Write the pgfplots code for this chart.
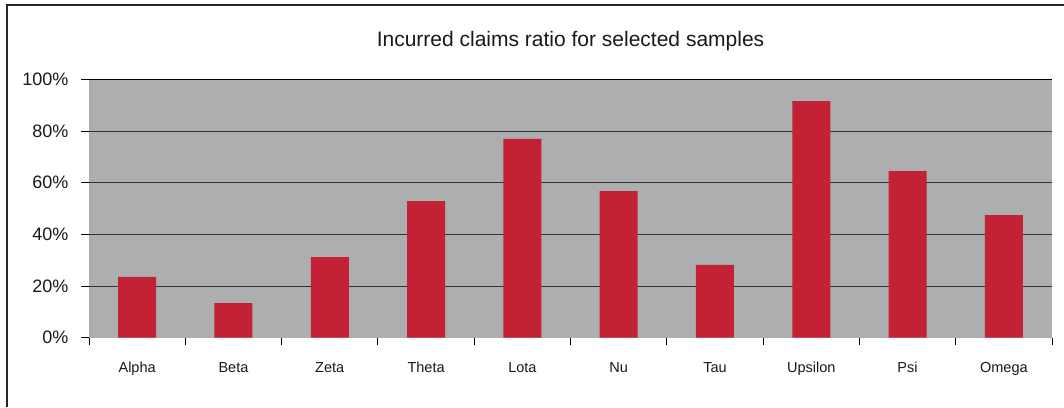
\documentclass[border=0pt]{standalone}
\usepackage{pgfplots}
\pgfplotsset{compat=1.18}
\usepackage{fontspec}
\setmainfont{Liberation Sans}
\definecolor{barred}{HTML}{C32234}
\definecolor{plotgray}{HTML}{ADAEB0}
\begin{document}
\begin{tikzpicture}[x=1bp,y=1bp]
\useasboundingbox (0,0) rectangle (1064,407);
\draw[line width=1.5bp,black!85] (7,0) -- (7,402) -- (1064,402);
\node[font=\fontsize{21bp}{23bp}\selectfont,text=black!90] at (570.5,366) {Incurred claims ratio for selected samples};
\begin{axis}[
  at={(89bp,69.3bp)}, anchor=south west,
  scale only axis, width=963bp, height=258.2bp,
  xmin=-0.5, xmax=9.5, ymin=0, ymax=100,
  axis background/.style={fill=plotgray},
  axis line style={draw=none},
  xtick pos=bottom, ytick pos=left,
  ybar, bar width=38bp,
  xtick={0,...,9},
  xticklabels={Alpha,Beta,Zeta,Theta,Lota,Nu,Tau,Upsilon,Psi,Omega},
  minor xtick={-0.5,0.5,...,9.5},
  ytick={0,20,...,100},
  minor ytick={20,40,...,80},
  yminorgrids, minor grid style={black!80, line width=1bp},
  tick align=outside,
  major tick length=0bp,
  minor tick length=0bp,
  extra y ticks={0,20,...,100}, extra y tick labels={},
  extra y tick style={major tick length=8bp, tick style={black, line width=0.9bp}, grid=none},
  extra x ticks={-0.5,0.5,...,9.5}, extra x tick labels={},
  extra x tick style={major tick length=7bp, tick style={black, line width=0.9bp}, grid=none},
  yticklabel={\pgfmathprintnumber{\tick}\%},
  /pgf/number format/assume math mode=true,
  yticklabel style={font=\fontsize{18bp}{19bp}\selectfont, text=black!90, xshift=-17bp},
  xticklabel style={font=\fontsize{14.5bp}{16bp}\selectfont, text=black!90, yshift=-21bp},
  clip=false,
]
\addplot[fill=barred, draw=none] coordinates {
 (0,23.6) (1,13.4) (2,31.2) (3,52.9) (4,77.0) (5,56.8) (6,28.2) (7,91.6) (8,64.5) (9,47.5)
};
\draw[black, line width=1.5bp] (rel axis cs:0,1) -- (rel axis cs:1,1);
\end{axis}
\end{tikzpicture}
\end{document}
